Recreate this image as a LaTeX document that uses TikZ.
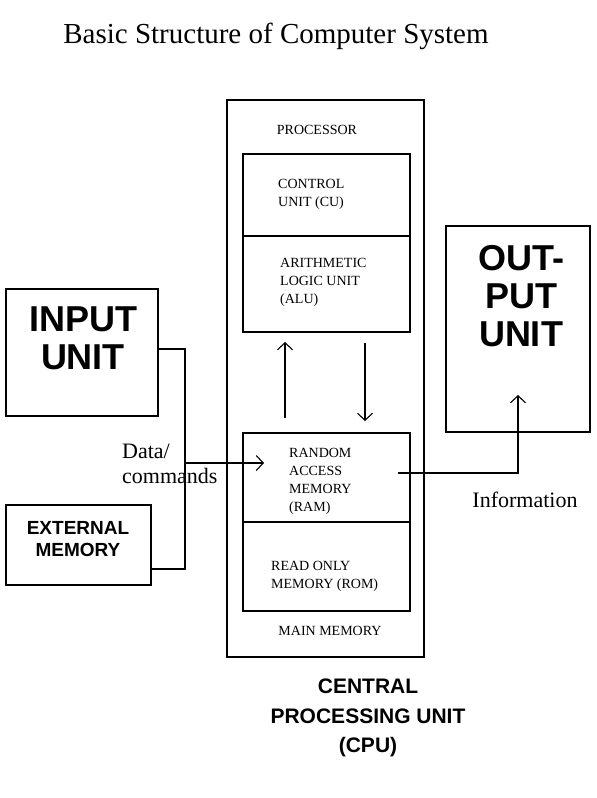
\documentclass[tikz,border=0pt]{standalone}
\usepackage{fontspec}
\setmainfont{Liberation Serif}
\newfontfamily\boldsans{Liberation Sans}
\usepackage{tikz}
\usetikzlibrary{arrows.meta}

\tikzset{
	box/.style={draw,line width=1.1pt,inner sep=0pt},
	arr/.style={line width=1.1pt,-{Straight Barb[length=7pt,width=15pt]}},
	wire/.style={line width=1.1pt},
	small/.style={font=\fontsize{14}{18}\selectfont,align=left,inner sep=0pt},
	big/.style={font=\boldsans\bfseries\fontsize{36}{38}\selectfont,align=center,inner sep=0pt}
}

\begin{document}
\begin{tikzpicture}[x=1pt,y=-1pt]
		\useasboundingbox (0,0) rectangle (597,798);
		\node (title) at (276,36) {\fontsize{29}{32}\selectfont Basic Structure of Computer System};

		% central processing unit
		\node[box,minimum width=197pt,minimum height=557pt] (cpu) at (325.5,378.5) {};
		\node[small] (proclabel) at (317,130) {PROCESSOR};
		\node[box,minimum width=167pt,minimum height=178pt] (proc) at (326.5,243) {};
		\coordinate (procL) at (243,236);
		\coordinate (procR) at (410,236);
		\draw[wire] (procL)--(procR);
		\node[small,anchor=west] (cu) at (278,194) {CONTROL\\UNIT (CU)};
		\node[small,anchor=west] (alu) at (280,282) {ARITHMETIC\\LOGIC UNIT\\(ALU)};

		\node[box,minimum width=167pt,minimum height=178pt] (mem) at (326.5,522) {};
		\coordinate (memL) at (243,522);
		\coordinate (memR) at (410,522);
		\draw[wire] (memL)--(memR);
		\node[small,anchor=west] (ram) at (289,481.5) {RANDOM\\ACCESS\\MEMORY\\(RAM)};
		\node[small,anchor=west] (rom) at (271,576) {READ ONLY\\MEMORY (ROM)};
		\node[small] (memlabel) at (330,631) {MAIN MEMORY};

		% arrows between processor and memory
		\coordinate (upA) at (285,418);
		\coordinate (upB) at (285,342);
		\draw[arr] (upA)--(upB);
		\coordinate (downA) at (365,343);
		\coordinate (downB) at (365,421);
		\draw[arr] (downA)--(downB);

		\node[font=\boldsans\bfseries\fontsize{21}{29.5}\selectfont,align=center] (cpulabel) at (368,718) {CENTRAL\\PROCESSING UNIT\\(CPU)};

		% input side
		\node[box,minimum width=152pt,minimum height=127pt] (inp) at (82,352.5) {};
		\node[big] (inplabel) at (83,338.5) {INPUT\\UNIT};
		\node[box,minimum width=145pt,minimum height=80pt] (ext) at (78.5,545) {};
		\node[font=\boldsans\bfseries\fontsize{19}{22}\selectfont,align=center,inner sep=0pt] (extlabel) at (78,539) {EXTERNAL\\MEMORY};

		\coordinate (busT) at (185,349);
		\coordinate (busB) at (185,569);
		\coordinate (busD) at (185,463);
		\coordinate (ramIn) at (264,463);
		\draw[wire] (inp.east |- busT)--(busT)--(busB)--(ext.east |- busB);
		\draw[arr] (busD)--(ramIn);
		\node[font=\fontsize{22}{25}\selectfont,align=left,inner sep=0pt,anchor=west] (data) at (122,464) {Data/\\commands};

		% output side
		\node[box,minimum width=144pt,minimum height=206pt] (out) at (518,329) {};
		\node[big] (outlabel) at (521,296.5) {OUT-\\PUT\\UNIT};
		\coordinate (ramOut) at (398,473);
		\coordinate (turn) at (518,473);
		\coordinate (outIn) at (518,395);
		\draw[arr] (ramOut)--(turn)--(outIn);
		\node[font=\fontsize{22}{25}\selectfont,inner sep=0pt] (info) at (525,500) {Information};
\end{tikzpicture}
\end{document}
